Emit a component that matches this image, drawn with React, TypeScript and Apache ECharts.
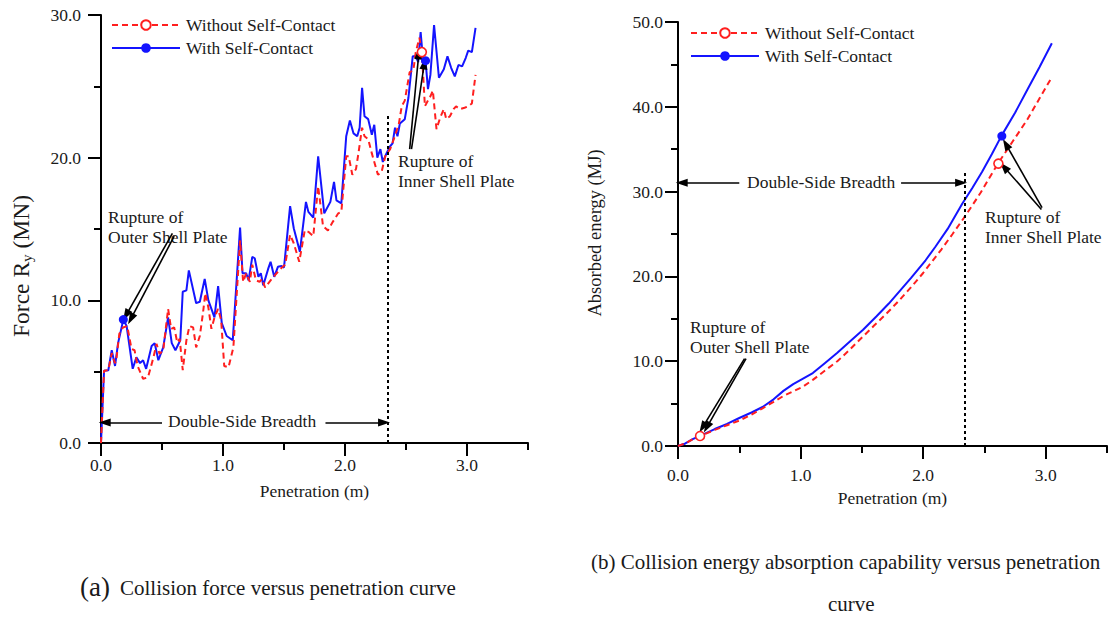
import React, { useEffect, useRef } from 'react';
import * as echarts from 'echarts';

// ---------- data ----------
// Collision force R_y (MN) versus penetration (m)
const forceWithContact: number[][] = [
  [0, 0], [0.025, 5.07], [0.06, 5.1], [0.088, 6.5], [0.115, 5.4], [0.14, 7.0], [0.183, 8.65], [0.21, 8.2],
  [0.26, 5.2], [0.29, 6.0], [0.32, 5.6], [0.345, 5.8], [0.37, 5.2], [0.415, 6.8], [0.44, 7.0], [0.47, 5.8],
  [0.51, 6.7], [0.55, 8.8], [0.58, 7.0], [0.61, 6.5], [0.65, 7.2], [0.67, 10.6], [0.70, 10.7], [0.72, 12.1],
  [0.78, 9.8], [0.81, 9.9], [0.85, 11.5], [0.88, 10.0], [0.93, 8.8], [0.96, 11.0], [0.99, 8.4], [1.03, 7.5],
  [1.08, 7.2], [1.14, 15.1], [1.16, 11.9], [1.19, 11.9], [1.21, 11.4], [1.24, 13.05], [1.26, 12.95],
  [1.29, 11.65], [1.31, 11.9], [1.33, 11.05], [1.37, 12.2], [1.39, 12.7], [1.42, 11.65], [1.45, 12.35],
  [1.48, 12.4], [1.50, 12.3], [1.55, 16.6], [1.58, 15.05], [1.63, 13.4], [1.68, 16.9], [1.70, 16.2],
  [1.74, 15.8], [1.78, 20.1], [1.83, 16.1], [1.88, 16.9], [1.91, 18.3], [1.93, 17.0], [1.97, 16.8],
  [2.01, 21.5], [2.04, 22.6], [2.07, 21.7], [2.10, 21.5], [2.12, 22.1], [2.14, 24.9], [2.16, 22.9],
  [2.19, 22.7], [2.22, 21.6], [2.24, 22.3], [2.265, 20.0], [2.29, 20.6], [2.31, 19.7], [2.34, 20.3],
  [2.37, 20.8], [2.39, 21.0], [2.41, 22.1], [2.43, 21.5], [2.45, 22.4], [2.49, 22.7], [2.51, 23.7],
  [2.52, 24.2], [2.555, 27.1], [2.58, 27.1], [2.60, 26.7], [2.62, 28.8], [2.64, 26.8], [2.66, 26.8],
  [2.68, 24.8], [2.70, 25.8], [2.73, 29.3], [2.77, 25.6], [2.81, 26.2], [2.84, 27.1], [2.87, 26.3],
  [2.90, 25.7], [2.93, 26.5], [2.96, 26.4], [2.99, 27.0], [3.01, 27.5], [3.04, 27.4], [3.07, 29.1],
];

const forceWithoutContact: number[][] = [
  [0, 0], [0.025, 5.07], [0.06, 5.1], [0.088, 6.3], [0.115, 5.6], [0.125, 5.8], [0.15, 7.65], [0.18, 8.1],
  [0.215, 8.2], [0.25, 6.6], [0.275, 6.5], [0.30, 5.4], [0.345, 4.5], [0.385, 4.6], [0.43, 6.0],
  [0.455, 6.95], [0.48, 6.25], [0.51, 6.5], [0.55, 9.4], [0.575, 8.0], [0.60, 8.1], [0.625, 7.05],
  [0.645, 7.3], [0.67, 5.1], [0.70, 7.2], [0.725, 8.2], [0.755, 8.1], [0.78, 6.7], [0.81, 7.5],
  [0.835, 9.05], [0.855, 10.5], [0.88, 9.5], [0.905, 8.0], [0.93, 8.8], [0.96, 9.4], [0.985, 8.6],
  [1.01, 5.4], [1.045, 5.3], [1.085, 6.7], [1.14, 14.2], [1.165, 11.3], [1.19, 11.9], [1.22, 11.3],
  [1.24, 12.5], [1.27, 11.4], [1.30, 11.3], [1.32, 11.5], [1.345, 10.9], [1.39, 11.4], [1.43, 11.8],
  [1.47, 12.2], [1.51, 12.5], [1.55, 14.6], [1.58, 14.0], [1.625, 12.7], [1.67, 14.9], [1.70, 14.8],
  [1.74, 14.5], [1.78, 18.0], [1.82, 15.2], [1.86, 14.9], [1.90, 15.5], [1.945, 16.1], [1.97, 16.2],
  [2.01, 20.1], [2.03, 20.1], [2.06, 18.8], [2.09, 19.2], [2.11, 20.3], [2.14, 22.1], [2.16, 21.5],
  [2.19, 21.3], [2.22, 20.3], [2.25, 19.4], [2.27, 18.8], [2.30, 19.0], [2.33, 20.1], [2.37, 20.6],
  [2.40, 21.3], [2.44, 22.3], [2.465, 23.6], [2.49, 24.0], [2.53, 26.0], [2.56, 26.1], [2.58, 27.4],
  [2.61, 28.4], [2.63, 27.4], [2.655, 23.6], [2.67, 23.85], [2.70, 24.3], [2.72, 24.7], [2.75, 22.0],
  [2.78, 22.8], [2.81, 23.4], [2.83, 22.7], [2.86, 22.9], [2.89, 23.4], [2.91, 23.6], [2.94, 23.4],
  [2.98, 23.5], [3.01, 23.6], [3.04, 23.8], [3.07, 25.8],
];

// Absorbed energy (MJ) versus penetration (m)
const energyWithContact: number[][] = [
  [0, 0], [0.06, 0.3], [0.12, 0.8], [0.18, 1.2], [0.3, 2.0], [0.4, 2.6], [0.5, 3.3], [0.6, 3.95],
  [0.69, 4.6], [0.78, 5.5], [0.86, 6.5], [0.94, 7.3], [1.02, 7.95], [1.1, 8.6], [1.2, 9.8], [1.3, 11.0],
  [1.4, 12.3], [1.51, 13.7], [1.62, 15.3], [1.72, 16.8], [1.81, 18.3], [1.9, 19.8], [2.02, 21.9],
  [2.1, 23.5], [2.2, 25.6], [2.32, 28.6], [2.4, 30.4], [2.48, 32.3], [2.56, 34.4], [2.64, 36.6],
  [2.75, 39.3], [2.85, 42.0], [2.95, 44.7], [3.05, 47.5],
];

const energyWithoutContact: number[][] = [
  [0, 0], [0.06, 0.3], [0.12, 0.8], [0.18, 1.18], [0.3, 1.9], [0.4, 2.45], [0.5, 3.0], [0.6, 3.7],
  [0.69, 4.45], [0.78, 5.2], [0.86, 5.9], [0.94, 6.45], [1.02, 7.0], [1.1, 7.8], [1.2, 8.9], [1.3, 10.0],
  [1.39, 11.2], [1.48, 12.5], [1.6, 14.2], [1.7, 15.6], [1.8, 17.1], [1.9, 18.7], [2.0, 20.4],
  [2.08, 21.9], [2.15, 23.2], [2.24, 25.0], [2.33, 26.85], [2.4, 28.35], [2.47, 29.9], [2.54, 31.6],
  [2.61, 33.3], [2.73, 35.9], [2.85, 38.5], [2.95, 41.0], [3.05, 43.5],
];

// Rupture points: [penetration, value]
const forceOuterRupture = { with: [0.183, 8.65], without: [0.18, 8.1] };
const forceInnerRupture = { with: [2.66, 26.8], without: [2.63, 27.4] };
const energyOuterRupture = { with: [0.18, 1.2], without: [0.18, 1.18] };
const energyInnerRupture = { with: [2.642, 36.55], without: [2.614, 33.3] };

// Double-side breadth of the hull (m)
const breadthForce = 2.35;
const breadthEnergy = 2.34;

const seriesNames = ['Without Self-Contact', 'With Self-Contact'];
const penetrationMajor = [0, 1, 2, 3];
const penetrationMinor = [0.5, 1.5, 2.5, 3.5];
const forceMajor = [0, 10, 20, 30];
const forceMinor = [5, 15, 25];
const energyMajor = [0, 10, 20, 30, 40, 50];
const energyMinor = [5, 15, 25, 35, 45];

// ---------- styling ----------
const FONT = "'Liberation Serif', 'Times New Roman', serif";
const INK = '#1a1a1a';
const RED = '#ff1f1f';
const BLUE = '#1414ff';
const FS = 17.5;

const txt = (extra: any = {}) => ({ fontFamily: FONT, fontSize: FS, color: INK, ...extra });

function xAxes(grid: number, nameGap: number, labelMargin: number) {
  return [
    {
      type: 'value', gridIndex: grid, position: 'bottom', min: 0, max: 3.5, interval: 0.5,
      axisLine: { show: true, onZero: false, lineStyle: { color: '#000', width: 2 } },
      axisTick: { show: true, length: 13, customValues: penetrationMajor, lineStyle: { color: '#000', width: 2 } },
      axisLabel: { customValues: penetrationMajor, formatter: (v: number) => v.toFixed(1), margin: labelMargin, ...txt() },
      splitLine: { show: false },
      name: 'Penetration (m)', nameLocation: 'middle', nameGap, nameTextStyle: txt(),
    },
    {
      type: 'value', gridIndex: grid, position: 'bottom', min: 0, max: 3.5, interval: 0.5,
      axisLine: { show: false, onZero: false },
      axisTick: { show: true, length: 7, customValues: penetrationMinor, lineStyle: { color: '#000', width: 2 } },
      axisLabel: { show: false },
      splitLine: { show: false },
    },
  ];
}

function yAxes(grid: number, max: number, major: number[], minor: number[], labelMargin: number) {
  return [
    {
      type: 'value', gridIndex: grid, position: 'left', min: 0, max, interval: 5,
      axisLine: { show: true, onZero: false, lineStyle: { color: '#000', width: 2 } },
      axisTick: { show: true, length: 13, customValues: major, lineStyle: { color: '#000', width: 2 } },
      axisLabel: { customValues: major, formatter: (v: number) => v.toFixed(1), margin: labelMargin, ...txt() },
      splitLine: { show: false },
    },
    {
      type: 'value', gridIndex: grid, position: 'left', min: 0, max, interval: 5,
      axisLine: { show: false, onZero: false },
      axisTick: { show: true, length: 7, customValues: minor, lineStyle: { color: '#000', width: 2 } },
      axisLabel: { show: false },
      splitLine: { show: false },
    },
  ];
}

const blackLine = { color: '#000', width: 1.6, type: 'solid' };
const dotted = { color: '#000', width: 2, type: [3, 3] };

const arrow = (from: number[], to: number[]) => [
  { coord: from, symbol: 'none', lineStyle: blackLine },
  { coord: to, symbol: 'triangle' },
];
const vline = (x: number, top: number) => [
  { coord: [x, 0], symbol: 'none', lineStyle: dotted },
  { coord: [x, top], symbol: 'none' },
];

const ringMark = (coord: number[]) => ({
  coord, symbol: 'circle', symbolSize: 9,
  itemStyle: { color: '#fff', borderColor: RED, borderWidth: 1.6 },
});
const dotMark = (coord: number[]) => ({
  coord, symbol: 'circle', symbolSize: 9, itemStyle: { color: BLUE },
});

function lineSeries(name: string, grid: number, data: number[][], markPts: any[], markLines: any[] | null) {
  const isBlue = name === 'With Self-Contact';
  const s: any = {
    type: 'line', name, xAxisIndex: grid * 2, yAxisIndex: grid * 2, data,
    showSymbol: false,
    symbol: isBlue ? 'circle' : 'emptyCircle', symbolSize: 11,
    itemStyle: { color: isBlue ? BLUE : RED, borderColor: isBlue ? BLUE : RED },
    lineStyle: { color: isBlue ? BLUE : RED, width: 2, type: isBlue ? 'solid' : [6, 4] },
    z: isBlue ? 3 : 4,
    silent: true,
    markPoint: { silent: true, label: { show: false }, data: markPts, z: 6 },
  };
  if (markLines) {
    s.markLine = {
      silent: true, symbolSize: [8, 12], label: { show: false }, animation: false,
      lineStyle: blackLine, data: markLines,
    };
  }
  return s;
}

function legend(left: number, top: number) {
  return {
    data: seriesNames, left, top, orient: 'vertical', itemWidth: 68, itemHeight: 12, itemGap: 5,
    selectedMode: false,
    textStyle: txt({ padding: [0, 0, 0, 1] }),
  };
}

function txtG() {
  return { fontFamily: FONT, fontSize: FS, fill: INK, lineHeight: 20 };
}

// vertical axis title, centred on (x, y) and read bottom-to-top
function yTitle(x: number, y: number, text: string, size: number) {
  return {
    type: 'text', x, y, rotation: Math.PI / 2,
    style: {
      text, fontFamily: FONT, fontSize: size, fill: INK, align: 'center', verticalAlign: 'middle',
      rich: {
        main: { fontFamily: FONT, fontSize: size, fill: INK },
        sub: { fontFamily: FONT, fontSize: Math.round(size * 0.62), fill: INK, verticalAlign: 'bottom', padding: [Math.round(size * 0.45), 0, 0, 0] },
      },
    },
  };
}

export default function App() {
  const ref = useRef<HTMLDivElement>(null);

  useEffect(() => {
    if (!ref.current) return;
    const chart = echarts.init(ref.current, undefined, { renderer: 'svg' });

    const forceLines = [
      arrow([0.585, 14.7], [0.205, 8.95]),
      arrow([0.6, 14.5], [0.245, 8.7]),
      arrow([2.53, 20.6], [2.605, 27.3]),
      arrow([2.545, 20.6], [2.65, 26.6]),
      arrow([0.5, 1.43], [0.03, 1.43]),
      arrow([1.84, 1.43], [2.32, 1.43]),
      vline(breadthForce, 23.0),
    ];
    const energyLines = [
      arrow([0.543, 10.3], [0.2, 2.2]),
      arrow([0.555, 10.3], [0.235, 2.2]),
      arrow([2.97, 28.1], [2.675, 35.6]),
      arrow([2.965, 27.9], [2.66, 32.9]),
      arrow([0.5, 31.05], [0.03, 31.05]),
      arrow([1.82, 31.05], [2.31, 31.05]),
      vline(breadthEnergy, 32.3),
    ];

    chart.setOption({
      animation: false,
      backgroundColor: '#fff',
      textStyle: { fontFamily: FONT },
      grid: [
        { left: 101, top: 15, width: 427, height: 428 },
        { left: 678, top: 22, width: 429, height: 424 },
      ],
      legend: [legend(106, 11), legend(685, 19)],
      xAxis: [...xAxes(0, 39, 13), ...xAxes(1, 41, 20)],
      yAxis: [
        ...yAxes(0, 30, forceMajor, forceMinor, 20),
        ...yAxes(1, 50, energyMajor, energyMinor, 15),
      ],
      series: [
        lineSeries('With Self-Contact', 0, forceWithContact, [dotMark(forceOuterRupture.with), dotMark(forceInnerRupture.with)], forceLines),
        lineSeries('Without Self-Contact', 0, forceWithoutContact, [ringMark(forceInnerRupture.without)], null),
        lineSeries('With Self-Contact', 1, energyWithContact, [dotMark(energyOuterRupture.with), dotMark(energyInnerRupture.with)], energyLines),
        lineSeries('Without Self-Contact', 1, energyWithoutContact, [ringMark(energyOuterRupture.without), ringMark(energyInnerRupture.without)], null),
      ],
      graphic: [
        // axis titles
        yTitle(21, 266, '{main|Force R}{sub|y}{main| (MN)}', 23.5),
        yTitle(595, 233, 'Absorbed energy (MJ)', 18.5),
        // annotation texts
        { type: 'text', left: 108, top: 207, style: { text: 'Rupture of\nOuter Shell Plate', ...txtG() } },
        { type: 'text', left: 398, top: 151, style: { text: 'Rupture of\nInner Shell Plate', ...txtG() } },
        { type: 'text', left: 168, top: 411, style: { text: 'Double-Side Breadth', ...txtG() } },
        { type: 'text', left: 690, top: 317, style: { text: 'Rupture of\nOuter Shell Plate', ...txtG() } },
        { type: 'text', left: 985, top: 207, style: { text: 'Rupture of\nInner Shell Plate', ...txtG() } },
        { type: 'text', left: 747, top: 172, style: { text: 'Double-Side Breadth', ...txtG() } },
        // captions
        { type: 'text', left: 80, top: 573, style: { text: '(a)', fontFamily: FONT, fontSize: 27, fill: INK } },
        { type: 'text', left: 120, top: 577, style: { text: 'Collision force versus penetration curve', fontFamily: FONT, fontSize: 21, fill: INK } },
        { type: 'text', left: 591, top: 551, style: { text: '(b) Collision energy absorption capability versus penetration', fontFamily: FONT, fontSize: 21, fill: INK } },
        { type: 'text', left: 828, top: 593, style: { text: 'curve', fontFamily: FONT, fontSize: 21, fill: INK } },
      ],
    });

    return () => chart.dispose();
  }, []);

  return <div ref={ref} style={{ position: 'absolute', left: 0, top: 0, width: 1110, height: 619 }} />;
}
